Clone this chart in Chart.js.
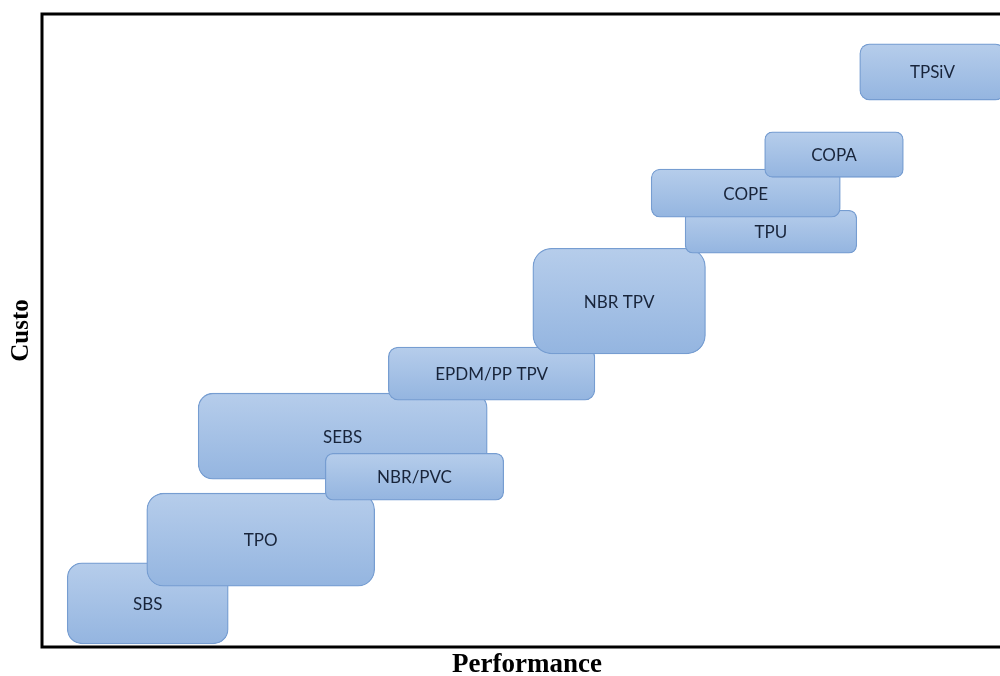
<!DOCTYPE html>
<html>
<head>
<meta charset="utf-8">
<script src="https://cdn.jsdelivr.net/npm/chart.js@4/dist/chart.umd.min.js"></script>
<style>
  html, body { margin: 0; padding: 0; background: #ffffff; overflow: hidden; }
  #wrap { width: 1014px; height: 676px; position: relative; }
</style>
</head>
<body>
<div id="wrap"><canvas id="chart"></canvas></div>
<script>
// Thermoplastic elastomer families: performance range (x) and cost range (y), arbitrary 0–100 units
const materials = ['SBS', 'TPO', 'SEBS', 'NBR/PVC', 'EPDM/PP TPV', 'NBR TPV', 'TPU', 'COPE', 'COPA', 'TPSiV'];
const perfMin   = [2.6, 10.8, 16.1, 29.2, 35.7, 50.6, 66.3, 62.8, 74.5, 84.3];
const perfMax   = [19.2, 34.3, 45.9, 47.6, 57.0, 68.4, 84.0, 82.3, 88.8, 99.3];
const costMin   = [0.5, 9.6, 26.5, 23.2, 39.0, 46.3, 62.2, 67.9, 74.2, 86.4];
const costMax   = [13.3, 24.3, 40.1, 30.6, 47.4, 63.0, 69.0, 75.5, 81.4, 95.3];
const axisTitles = { x: 'Performance', y: 'Custo' };

const n = materials.length;

function costPixelSpan(chart, i) {
  const ys = chart.scales.y;
  const top = ys.getPixelForValue(costMax[i]);
  const bottom = ys.getPixelForValue(costMin[i]);
  return { top, bottom, height: Math.abs(bottom - top) };
}

const datasets = materials.map((name, i) => ({
  label: name,
  data: [{ x: [perfMin[i], perfMax[i]], y: (costMin[i] + costMax[i]) / 2 }],
  order: n - 1 - i,               // later materials sit on top
  skipNull: true,
  barThickness: (ctx) => costPixelSpan(ctx.chart, i).height,
  borderRadius: (ctx) => {
    const s = ctx.chart.scales;
    if (!s || !s.y) return 8;
    return Math.round(costPixelSpan(ctx.chart, i).height * 0.18);
  },
  borderSkipped: false,
  borderWidth: 1.3,
  borderColor: '#769dd1',
  backgroundColor: (ctx) => {
    const chart = ctx.chart;
    if (!chart.chartArea) return '#a6c3e7';
    const span = costPixelSpan(chart, i);
    const g = chart.ctx.createLinearGradient(0, span.top, 0, span.bottom);
    g.addColorStop(0, '#b6cdeb');
    g.addColorStop(1, '#94b5e0');
    return g;
  }
}));

// Name of each material written in the middle of its box, right after the box is drawn
const boxLabels = {
  id: 'boxLabels',
  afterDatasetDraw(chart, args) {
    const i = args.index;
    const { ctx, scales } = chart;
    const cx = scales.x.getPixelForValue((perfMin[i] + perfMax[i]) / 2);
    const cy = scales.y.getPixelForValue((costMin[i] + costMax[i]) / 2);
    ctx.save();
    ctx.font = '17px Lato, "Open Sans", sans-serif';
    ctx.fillStyle = '#18243a';
    ctx.textAlign = 'center';
    ctx.textBaseline = 'middle';
    ctx.fillText(materials[i], cx, cy + 1);
    ctx.restore();
  }
};

// Black frame around the plotting area
const frame = {
  id: 'frame',
  afterDraw(chart) {
    const { ctx, chartArea: a } = chart;
    ctx.save();
    ctx.strokeStyle = '#000000';
    ctx.lineWidth = 3;
    ctx.strokeRect(a.left, a.top, a.right - a.left, a.bottom - a.top);
    ctx.restore();
  }
};

new Chart(document.getElementById('chart'), {
  type: 'bar',
  data: { datasets },
  options: {
    indexAxis: 'y',
    responsive: true,
    maintainAspectRatio: false,
    animation: false,
    layout: { padding: { top: 14, right: 2, left: 0, bottom: 0 } },
    plugins: {
      legend: { display: false },
      tooltip: { enabled: false }
    },
    scales: {
      x: {
        type: 'linear',
        min: 0,
        max: 100,
        offset: false,
        grid: { display: false },
        border: { display: false },
        ticks: { display: false },
        title: {
          display: true,
          text: axisTitles.x,
          color: '#000000',
          font: { family: '"Liberation Serif", "DejaVu Serif", serif', size: 27, weight: 'bold', lineHeight: 0.8 },
          padding: { top: 0, bottom: 0 }
        },
        afterFit(scale) { scale.height = 29; }
      },
      y: {
        type: 'linear',
        min: 0,
        max: 100,
        offset: false,
        grid: { display: false },
        border: { display: false },
        ticks: { display: false },
        title: {
          display: true,
          text: axisTitles.y,
          color: '#000000',
          font: { family: '"Liberation Serif", "DejaVu Serif", serif', size: 25, weight: 'bold', lineHeight: 1 },
          padding: { top: 9, bottom: 0 }
        },
        afterFit(scale) { scale.width = 42; }
      }
    }
  },
  plugins: [boxLabels, frame]
});
</script>
</body>
</html>
